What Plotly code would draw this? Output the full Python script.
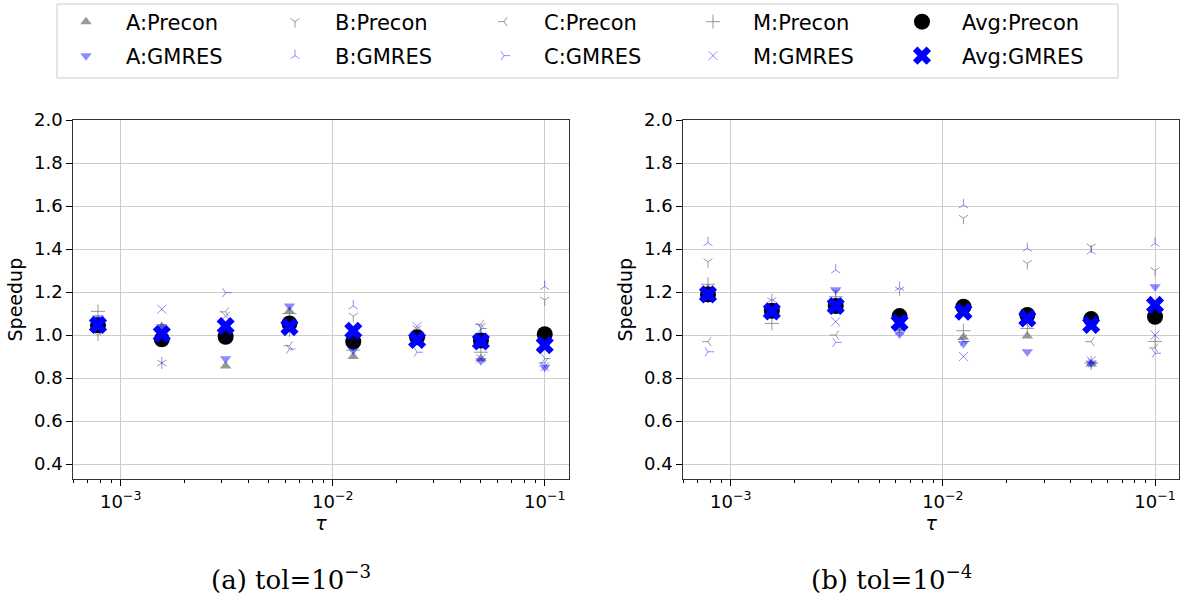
import plotly.graph_objects as go

# ---- data ----
tau = [0.00078125, 0.0015625, 0.003125, 0.00625, 0.0125, 0.025, 0.05, 0.1]

# panel (a) tol=1e-3
a_A_precon = [1.05, 1.04, 0.856, 1.11, 0.90, 0.99, 0.89, 0.99]
a_A_gmres  = [1.08, 1.04, 0.89, 1.135, 0.93, 0.98, 0.88, 0.85]
a_B_precon = [1.00, 0.87, 1.00, 1.02, 1.088, 1.03, 1.04, 1.163]
a_B_gmres  = [1.03, 0.87, 0.985, 1.04, 1.135, 0.99, 1.00, 1.225]
a_C_precon = [1.02, 1.00, 1.108, 0.95, 0.96, 0.97, 1.05, 0.87]
a_C_gmres  = [1.04, 1.02, 1.197, 0.935, 0.99, 0.92, 1.03, 0.89]
a_M_precon = [1.11, 1.00, 1.00, 1.10, 0.93, 0.99, 0.92, 0.99]
a_M_gmres  = [1.06, 1.12, 1.088, 1.02, 0.98, 1.04, 0.89, 0.853]
a_Avg_precon = [1.045, 0.98, 0.992, 1.054, 0.969, 0.99, 0.974, 1.004]
a_Avg_gmres  = [1.047, 1.005, 1.042, 1.037, 1.02, 0.977, 0.97, 0.953]

# panel (b) tol=1e-4
b_A_precon = [1.215, 1.12, 1.14, 1.03, 0.99, 0.995, 0.865, 1.13]
b_A_gmres  = [1.20, 1.12, 1.21, 1.005, 0.96, 0.922, 0.87, 1.225]
b_B_precon = [1.341, 1.16, 1.20, 1.21, 1.543, 1.333, 1.41, 1.30]
b_B_gmres  = [1.429, 1.165, 1.302, 1.22, 1.605, 1.403, 1.39, 1.426]
b_C_precon = [0.969, 1.10, 1.00, 1.06, 0.98, 1.05, 0.969, 0.94]
b_C_gmres  = [0.922, 1.10, 0.966, 1.05, 0.97, 1.08, 0.87, 0.915]
b_M_precon = [1.236, 1.054, 1.178, 1.03, 1.02, 1.03, 0.87, 0.97]
b_M_gmres  = [1.20, 1.12, 1.062, 1.02, 0.90, 1.06, 0.88, 1.00]
b_Avg_precon = [1.189, 1.113, 1.135, 1.088, 1.132, 1.093, 1.074, 1.085]
b_Avg_gmres  = [1.189, 1.11, 1.135, 1.057, 1.108, 1.077, 1.047, 1.14]

series_names = ["A:Precon", "B:Precon", "C:Precon", "M:Precon", "Avg:Precon",
                "A:GMRES", "B:GMRES", "C:GMRES", "M:GMRES", "Avg:GMRES"]
panel_a = [a_A_precon, a_B_precon, a_C_precon, a_M_precon, a_Avg_precon,
           a_A_gmres, a_B_gmres, a_C_gmres, a_M_gmres, a_Avg_gmres]
panel_b = [b_A_precon, b_B_precon, b_C_precon, b_M_precon, b_Avg_precon,
           b_A_gmres, b_B_gmres, b_C_gmres, b_M_gmres, b_Avg_gmres]

y_ticks = [0.4, 0.6, 0.8, 1.0, 1.2, 1.4, 1.6, 1.8, 2.0]
x_ticks = [1e-3, 1e-2, 1e-1]
x_ticktext = ["10<sup>−3</sup>", "10<sup>−2</sup>", "10<sup>−1</sup>"]
captions = ["(a) tol=10<sup>−3</sup>", "(b) tol=10<sup>−4</sup>"]

# ---- styles ----
GRAY = "rgba(128,128,128,0.8)"
BLUE = "rgba(0,0,255,0.45)"
styles = {
    "A:Precon": dict(symbol="triangle-up", size=10, color=GRAY, line=dict(width=0)),
    "B:Precon": dict(symbol="y-down", size=7.5, color=GRAY, line=dict(width=1, color=GRAY)),
    "C:Precon": dict(symbol="y-left", size=7.5, color=GRAY, line=dict(width=1, color=GRAY)),
    "M:Precon": dict(symbol="cross-thin", size=10, color=GRAY, line=dict(width=1, color=GRAY)),
    "Avg:Precon": dict(symbol="circle", size=16, color="black", line=dict(width=0)),
    "A:GMRES": dict(symbol="triangle-down", size=10, color=BLUE, line=dict(width=0)),
    "B:GMRES": dict(symbol="y-up", size=7.5, color=BLUE, line=dict(width=1, color=BLUE)),
    "C:GMRES": dict(symbol="y-right", size=7.5, color=BLUE, line=dict(width=1, color=BLUE)),
    "M:GMRES": dict(symbol="x-thin", size=9, color=BLUE, line=dict(width=1, color=BLUE)),
    "Avg:GMRES": dict(symbol="x", size=16, color="blue", line=dict(width=0)),
}

fig = go.Figure()
for pi, (panel, xa, ya) in enumerate([(panel_a, "x", "y"), (panel_b, "x2", "y2")]):
    for name, vals in zip(series_names, panel):
        fig.add_trace(go.Scatter(
            x=tau, y=vals, mode="markers", name=name,
            marker=styles[name], xaxis=xa, yaxis=ya,
            showlegend=(pi == 0), legendgroup=name,
            legend=("legend" if "Precon" in name else "legend2"),
        ))

FONT = "DejaVu Sans"
W, H = 1186, 596
x_range = [-3.2236, -0.887]
y_range = [0.329, 2.0]
ydom = [1 - 479.3 / H, 1 - 120 / H]

minor_vals = [m * 10 ** e for e in (-4, -3, -2, -1) for m in range(2, 10)]

def xaxis_cfg(dom, anchor):
    return dict(
        type="log", domain=dom, range=x_range, anchor=anchor, automargin=False,
        tickvals=x_ticks, ticktext=x_ticktext,
        ticks="outside", ticklen=6, tickcolor="black", tickwidth=1,
        showgrid=True, gridcolor="#cccccc", gridwidth=1,
        showline=True, linecolor="#333333", linewidth=1.2, mirror=True,
        tickfont=dict(family=FONT, size=18, color="black"),
        title=dict(text="<i>τ</i>", font=dict(family=FONT, size=19, color="black"), standoff=1),
        minor=dict(tickvals=minor_vals, ticks="outside", ticklen=3, tickcolor="black", showgrid=False),
        zeroline=False,
    )

def yaxis_cfg(anchor):
    return dict(
        domain=ydom, range=y_range, anchor=anchor, automargin=False,
        tickvals=y_ticks, ticktext=[f"{v:.1f}" for v in y_ticks],
        ticks="outside", ticklen=6, tickcolor="black", tickwidth=1,
        showgrid=True, gridcolor="#cccccc", gridwidth=1,
        showline=True, linecolor="#333333", linewidth=1.2, mirror=True,
        tickfont=dict(family=FONT, size=18, color="black"),
        title=dict(text="Speedup", font=dict(family=FONT, size=19, color="black"), standoff=6),
        zeroline=False,
    )

def legend_cfg(row_y):
    return dict(
        orientation="h", xref="container", yref="container",
        x=46 / W, y=1 - row_y / H, xanchor="left", yanchor="middle",
        font=dict(family=FONT, size=21, color="black"),
        borderwidth=0, bgcolor="rgba(0,0,0,0)",
        entrywidth=124, entrywidthmode="pixels", itemwidth=70,
        traceorder="normal",
    )

fig.update_layout(
    width=W, height=H,
    margin=dict(l=0, r=0, t=0, b=0, autoexpand=False),
    paper_bgcolor="white", plot_bgcolor="white",
    xaxis=xaxis_cfg([73.3 / W, 568.7 / W], "y"),
    yaxis=yaxis_cfg("x"),
    xaxis2=xaxis_cfg([683.3 / W, 1179 / W], "y2"),
    yaxis2=yaxis_cfg("x2"),
    legend=legend_cfg(22),
    legend2=legend_cfg(56),
    showlegend=True,
)

# legend frame
fig.add_shape(
    type="rect", xref="paper", yref="paper",
    x0=57 / W, x1=1118 / W, y0=1 - 78 / H, y1=1 - 4 / H,
    line=dict(color="#cccccc", width=1), fillcolor="rgba(0,0,0,0)", layer="below",
)

for cap, cx in zip(captions, [291, 891]):
    fig.add_annotation(
        text=cap, x=cx / W, y=1 - 578 / H, xref="paper", yref="paper",
        showarrow=False, xanchor="center", yanchor="middle",
        font=dict(family="DejaVu Serif", size=26, color="black"),
    )

fig.write_html("out.html")
